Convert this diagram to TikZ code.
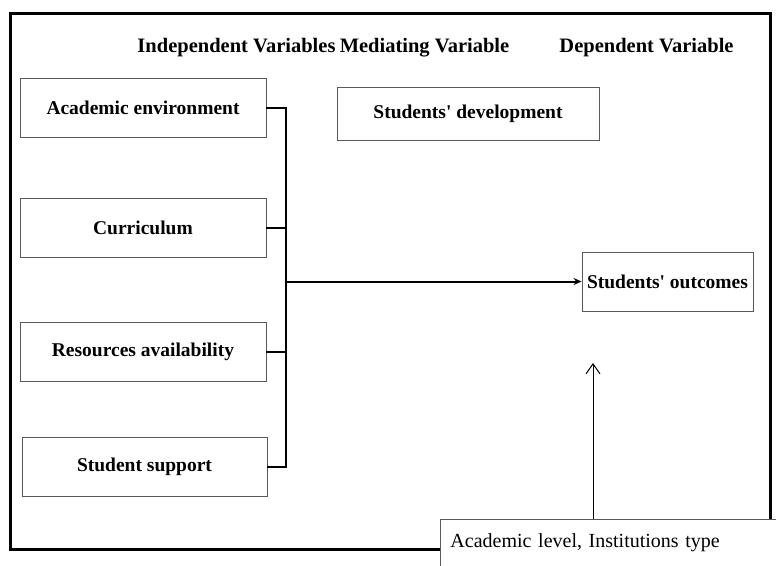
\documentclass[tikz,border=0pt]{standalone}
\usepackage{fontspec}
\setmainfont{Liberation Serif}
\usetikzlibrary{positioning, arrows.meta}

\begin{document}
\begin{tikzpicture}[x=1pt, y=-1pt, node distance=120pt, on grid,
    box/.style={draw=black!65, line width=0.9pt, fill=white, inner sep=0pt,
      font=\fontsize{19.5}{22}\selectfont\bfseries},
    head/.style={font=\fontsize{20.5}{24}\selectfont\bfseries},
    wire/.style={line width=2pt}]
  \useasboundingbox (0,0) rectangle (776,565);
  \clip (0,0) rectangle (776,565);
  % outer frame
  \draw[line width=3pt] (10,13) rectangle (770,549);

  % column headings
  \node[head] (iv) at (236.5,48) {Independent Variables};
  \node[head] (mv) at (424.5,48) {Mediating Variable};
  \node[head] (dv) at (646.5,48) {Dependent Variable};

  % independent variables
  \node[box, minimum width=246pt, minimum height=59pt] (ae) at (143,107.5) {Academic environment};
  \node[box, minimum width=246pt, minimum height=59pt] (cu) [below=of ae] {Curriculum};
  \node[box, minimum width=246pt, minimum height=59pt] (ra) [below=124pt of cu] {Resources availability};
  \node[box, minimum width=245pt, minimum height=59pt] (ss) at (144.5,466.5) {Student support};

  % mediating and dependent
  \node[box, minimum width=262pt, minimum height=53pt] (sd) at (468,113.5) {Students\textquotesingle\ development};
  \node[box, minimum width=171pt, minimum height=59pt] (so) at (667.5,281.5) {Students\textquotesingle\ outcomes};

  % moderator
  \node[box, anchor=north west, minimum width=360pt, minimum height=47pt,
    text width=340pt, align=left, font=\fontsize{20}{24}\selectfont] (al) at (440,519)
    {Academic level, Institutions type};

  % bus joining the left column
  \coordinate (bus) at (286,281.5);
  \coordinate (tip) at (593,363);
  \draw[wire] (ae.east) -| (bus |- ss.east) -- (ss.east);
  \draw[wire] (cu.east) -- (cu.east -| bus);
  \draw[wire] (ra.east) -- (ra.east -| bus);
  \draw[wire, -{Stealth[length=8pt, width=7pt]}] (bus) -- (so.west);
  \draw[line width=1pt, -{Straight Barb[length=10pt, width=14pt]}] (al.north -| tip) -- (tip);
\end{tikzpicture}
\end{document}
